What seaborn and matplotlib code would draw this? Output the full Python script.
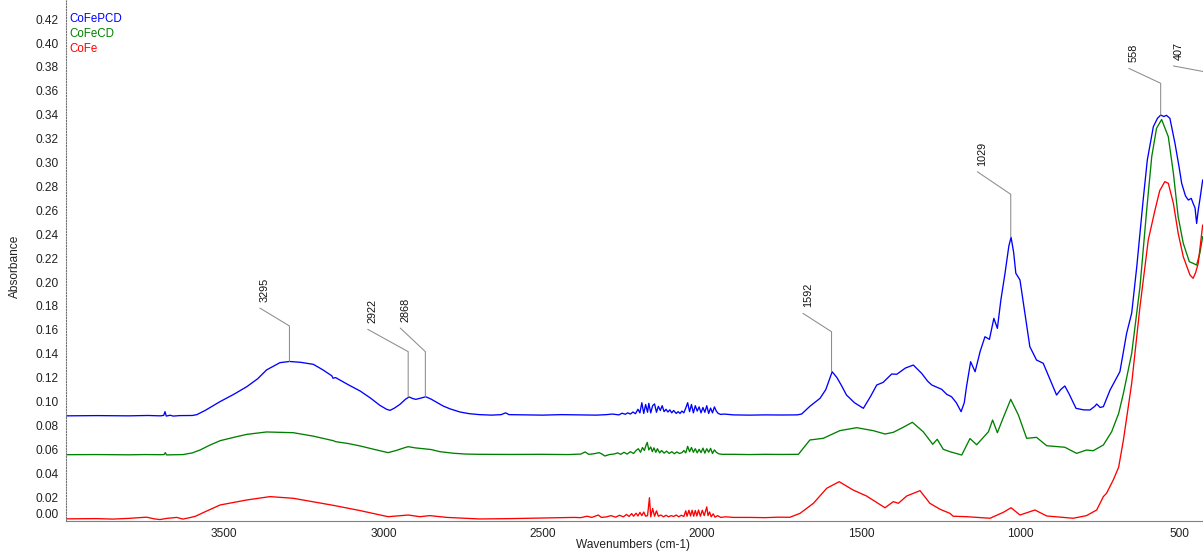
import numpy as np
import pandas as pd
import matplotlib
matplotlib.use('Agg')
import matplotlib.pyplot as plt
from matplotlib.transforms import offset_copy
from matplotlib.ticker import MultipleLocator
import seaborn as sns

# --- spectra (wavenumber cm-1, absorbance) ---
pcd_points = [
    (3997, 0.0880), (3900, 0.0882), (3800, 0.0880), (3740, 0.0883), (3700, 0.0880),
    (3690, 0.0884), (3686, 0.0915), (3682, 0.0878), (3670, 0.0885), (3660, 0.0878),
    (3640, 0.0882), (3600, 0.0883), (3586, 0.0890), (3560, 0.0925), (3513, 0.0999),
    (3470, 0.1060), (3429, 0.1124), (3395, 0.1190), (3367, 0.1264), (3325, 0.1325),
    (3295, 0.1335), (3260, 0.1328), (3220, 0.1311), (3190, 0.1265), (3162, 0.1215),
    (3158, 0.1195), (3150, 0.1200), (3110, 0.1140), (3073, 0.1088), (3040, 0.1028),
    (3011, 0.0968), (2990, 0.0935), (2979, 0.0926), (2965, 0.0945), (2948, 0.0976),
    (2930, 0.1020), (2919, 0.1038), (2908, 0.1025), (2898, 0.1018), (2880, 0.1030),
    (2867, 0.1040), (2850, 0.1020), (2830, 0.0990), (2812, 0.0962), (2790, 0.0938),
    (2759, 0.0912), (2730, 0.0898), (2697, 0.0890), (2660, 0.0886), (2630, 0.0890),
    (2616, 0.0905), (2605, 0.0890), (2560, 0.0888), (2500, 0.0886), (2440, 0.0890),
    (2380, 0.0888), (2330, 0.0886),
    (2300, 0.0890), (2280, 0.0895), (2260, 0.0888), (2250, 0.0902), (2240, 0.0893),
    (2232, 0.0905), (2224, 0.0895), (2216, 0.0912), (2208, 0.0898), (2200, 0.0935),
    (2194, 0.0905), (2188, 0.0990), (2182, 0.0900), (2176, 0.0975), (2170, 0.0910),
    (2166, 0.0985), (2160, 0.0905), (2154, 0.0965), (2148, 0.0980), (2142, 0.0910),
    (2136, 0.0960), (2130, 0.0925), (2124, 0.0965), (2118, 0.0915), (2112, 0.0935),
    (2106, 0.0912), (2100, 0.0930), (2094, 0.0905), (2088, 0.0925), (2080, 0.0900),
    (2074, 0.0915), (2068, 0.0900), (2062, 0.0920), (2056, 0.0905), (2050, 0.0945),
    (2044, 0.0990), (2038, 0.0915), (2032, 0.0975), (2026, 0.0905), (2020, 0.0965),
    (2014, 0.0920), (2008, 0.0955), (2002, 0.0905), (1996, 0.0950), (1990, 0.0910),
    (1984, 0.0965), (1978, 0.0900), (1972, 0.0945), (1966, 0.0905), (1960, 0.0955),
    (1954, 0.0920), (1948, 0.0900), (1940, 0.0892), (1930, 0.0895),
    (1900, 0.0888), (1850, 0.0886), (1800, 0.0888), (1750, 0.0887), (1700, 0.0888),
    (1686, 0.0895), (1660, 0.0960), (1628, 0.1027), (1610, 0.1100), (1590, 0.1249),
    (1575, 0.1200), (1560, 0.1130), (1545, 0.1054), (1520, 0.0990), (1492, 0.0943),
    (1470, 0.1040), (1450, 0.1138), (1430, 0.1160), (1403, 0.1230), (1387, 0.1228),
    (1360, 0.1280), (1335, 0.1305), (1309, 0.1236), (1290, 0.1170), (1277, 0.1138),
    (1246, 0.1102), (1230, 0.1060), (1215, 0.1040), (1200, 0.0990), (1185, 0.0915),
    (1175, 0.0990), (1168, 0.1124), (1155, 0.1333), (1141, 0.1249), (1125, 0.1420),
    (1110, 0.1542), (1096, 0.1520), (1082, 0.1696), (1071, 0.1612), (1060, 0.1850),
    (1047, 0.2073), (1035, 0.2300), (1028, 0.2374), (1020, 0.2250), (1013, 0.2073),
    (1000, 0.2017), (985, 0.1750), (969, 0.1459), (948, 0.1347), (927, 0.1320),
    (905, 0.1180), (885, 0.1054), (872, 0.1100), (859, 0.1130), (845, 0.1060),
    (824, 0.0943), (800, 0.0930), (780, 0.0929), (765, 0.0960), (759, 0.0979),
    (748, 0.0950), (738, 0.0957), (717, 0.1096), (700, 0.1180), (686, 0.1250),
    (665, 0.1570), (649, 0.1740), (633, 0.2130), (613, 0.2686), (600, 0.3020),
    (581, 0.3300), (568, 0.3370), (558, 0.3397), (548, 0.3385), (540, 0.3395),
    (529, 0.3370), (513, 0.3160), (500, 0.2960), (492, 0.2826), (480, 0.2720),
    (471, 0.2686), (462, 0.2700), (456, 0.2658), (450, 0.2620), (445, 0.2490),
    (440, 0.2600), (435, 0.2686), (426, 0.2854),
]

cd_points = [
    (3997, 0.0555), (3900, 0.0556), (3800, 0.0554), (3750, 0.0556), (3700, 0.0555),
    (3689, 0.0556), (3685, 0.0572), (3681, 0.0553), (3660, 0.0554), (3629, 0.0556),
    (3600, 0.0570), (3576, 0.0594), (3545, 0.0635), (3513, 0.0672), (3470, 0.0700),
    (3429, 0.0725), (3367, 0.0745), (3283, 0.0739), (3220, 0.0710), (3157, 0.0672),
    (3150, 0.0664), (3110, 0.0648), (3073, 0.0628), (3030, 0.0600), (2985, 0.0572),
    (2960, 0.0590), (2935, 0.0612), (2922, 0.0622), (2900, 0.0612), (2875, 0.0605),
    (2850, 0.0598), (2822, 0.0580), (2780, 0.0567), (2740, 0.0560), (2697, 0.0558),
    (2600, 0.0557), (2500, 0.0558), (2420, 0.0556),
    (2380, 0.0560), (2366, 0.0578), (2355, 0.0558), (2340, 0.0562), (2322, 0.0572),
    (2312, 0.0558), (2304, 0.0544), (2290, 0.0556), (2276, 0.0560), (2264, 0.0570),
    (2254, 0.0558), (2244, 0.0575), (2234, 0.0560), (2224, 0.0580), (2214, 0.0565),
    (2206, 0.0590), (2199, 0.0605), (2192, 0.0575), (2186, 0.0615), (2180, 0.0590),
    (2174, 0.0640), (2171, 0.0658), (2166, 0.0595), (2160, 0.0620), (2155, 0.0580),
    (2150, 0.0612), (2144, 0.0575), (2139, 0.0605), (2132, 0.0570), (2126, 0.0590),
    (2118, 0.0568), (2110, 0.0585), (2102, 0.0565), (2094, 0.0580), (2086, 0.0563),
    (2078, 0.0578), (2070, 0.0565), (2062, 0.0572), (2056, 0.0590), (2050, 0.0570),
    (2044, 0.0625), (2038, 0.0580), (2032, 0.0615), (2026, 0.0575), (2020, 0.0605),
    (2014, 0.0570), (2008, 0.0600), (2002, 0.0572), (1996, 0.0610), (1990, 0.0568),
    (1984, 0.0605), (1978, 0.0575), (1972, 0.0608), (1966, 0.0565), (1960, 0.0595),
    (1954, 0.0575), (1946, 0.0562), (1936, 0.0558),
    (1900, 0.0558), (1850, 0.0556), (1800, 0.0558), (1750, 0.0557), (1696, 0.0558),
    (1660, 0.0678), (1618, 0.0692), (1566, 0.0756), (1513, 0.0781), (1461, 0.0756),
    (1424, 0.0728), (1398, 0.0742), (1367, 0.0784), (1338, 0.0826), (1304, 0.0747),
    (1274, 0.0642), (1260, 0.0684), (1241, 0.0600), (1220, 0.0580), (1183, 0.0552),
    (1157, 0.0690), (1136, 0.0638), (1099, 0.0747), (1086, 0.0845), (1071, 0.0739),
    (1052, 0.0868), (1029, 0.1018), (1005, 0.0887), (979, 0.0692), (948, 0.0700),
    (916, 0.0630), (859, 0.0617), (822, 0.0566), (791, 0.0594), (770, 0.0588),
    (738, 0.0636), (712, 0.0747), (690, 0.0900), (675, 0.1069), (649, 0.1403),
    (623, 0.1960), (602, 0.2600), (586, 0.3050), (571, 0.3286), (555, 0.3360),
    (534, 0.3216), (518, 0.2910), (503, 0.2546), (487, 0.2324), (468, 0.2170),
    (455, 0.2155), (445, 0.2142), (435, 0.2240), (426, 0.2380),
]

fe_points = [
    (3997, 0.0018), (3900, 0.0020), (3850, 0.0016), (3800, 0.0022), (3744, 0.0032),
    (3720, 0.0018), (3702, 0.0012), (3680, 0.0022), (3649, 0.0030), (3630, 0.0016),
    (3608, 0.0028), (3590, 0.0040), (3566, 0.0070), (3513, 0.0134), (3429, 0.0176),
    (3356, 0.0204), (3283, 0.0190), (3157, 0.0131), (3073, 0.0087), (2985, 0.0036),
    (2922, 0.0050), (2885, 0.0036), (2854, 0.0045), (2800, 0.0030), (2697, 0.0017),
    (2600, 0.0020), (2500, 0.0025), (2440, 0.0028),
    (2400, 0.0030), (2380, 0.0028), (2360, 0.0040), (2345, 0.0030), (2325, 0.0050),
    (2315, 0.0030), (2300, 0.0034), (2285, 0.0045), (2270, 0.0032), (2258, 0.0048),
    (2246, 0.0035), (2236, 0.0055), (2228, 0.0038), (2220, 0.0062), (2214, 0.0040),
    (2206, 0.0065), (2200, 0.0042), (2194, 0.0072), (2188, 0.0045), (2182, 0.0075),
    (2176, 0.0040), (2170, 0.0045), (2164, 0.0195), (2160, 0.0035), (2154, 0.0105),
    (2148, 0.0040), (2142, 0.0085), (2136, 0.0040), (2128, 0.0050), (2120, 0.0035),
    (2112, 0.0048), (2104, 0.0035), (2096, 0.0045), (2088, 0.0038), (2080, 0.0050),
    (2072, 0.0035), (2064, 0.0048), (2056, 0.0038), (2050, 0.0085), (2046, 0.0040),
    (2040, 0.0090), (2035, 0.0042), (2030, 0.0090), (2025, 0.0040), (2020, 0.0088),
    (2015, 0.0042), (2010, 0.0092), (2004, 0.0040), (1998, 0.0090), (1992, 0.0045),
    (1984, 0.0118), (1980, 0.0045), (1975, 0.0075), (1970, 0.0035), (1964, 0.0060),
    (1958, 0.0032), (1950, 0.0045), (1940, 0.0030), (1925, 0.0035), (1900, 0.0030),
    (1850, 0.0030), (1800, 0.0028), (1760, 0.0032), (1723, 0.0031), (1691, 0.0064),
    (1649, 0.0148), (1607, 0.0274), (1568, 0.0329), (1524, 0.0259), (1482, 0.0209),
    (1424, 0.0111), (1398, 0.0162), (1382, 0.0148), (1356, 0.0209), (1314, 0.0254),
    (1283, 0.0148), (1251, 0.0098), (1220, 0.0064), (1210, 0.0040), (1168, 0.0036),
    (1094, 0.0023), (1052, 0.0073), (1028, 0.0111), (1000, 0.0050), (953, 0.0092),
    (916, 0.0042), (833, 0.0023), (791, 0.0045), (759, 0.0092), (738, 0.0204),
    (728, 0.0232), (707, 0.0343), (690, 0.0450), (675, 0.0678), (649, 0.1152),
    (623, 0.1793), (597, 0.2351), (576, 0.2600), (561, 0.2764), (545, 0.2840),
    (534, 0.2826), (518, 0.2658), (503, 0.2408), (487, 0.2212), (466, 0.2059),
    (456, 0.2031), (448, 0.2080), (440, 0.2156), (426, 0.2477),
]

sample_names = ['CoFePCD', 'CoFeCD', 'CoFe']
sample_colors = ['#0000ff', '#008000', '#ff0000']

# peak labels on the CoFePCD trace
peak_labels = ['3295', '2922', '2868', '1592', '1029', '558', '407']
peak_wn = [3295, 2922, 2868, 1592, 1029, 558, 407]
peak_abs = [0.1335, 0.1038, 0.1040, 0.1249, 0.2374, 0.3397, 0.300]

# leader geometry: top of the vertical stub, then end of the slanted part
leader_top = [0.1632, 0.1417, 0.1417, 0.1584, 0.2734, 0.3663, 0.3753]
leader_end_wn = [3388, 3049, 2947, 1682, 1134, 658, 518]
leader_end_abs = [0.1782, 0.1604, 0.1615, 0.1738, 0.2923, 0.3788, 0.3808]

frames = []
for name, pts in zip(sample_names, [pcd_points, cd_points, fe_points]):
    d = pd.DataFrame(pts, columns=['wn', 'absorbance'])
    d['sample'] = name
    frames.append(d)
df = pd.concat(frames, ignore_index=True)

sns.set_style('white')
plt.rcParams['font.family'] = ['Liberation Sans', 'DejaVu Sans']

fig = plt.figure(figsize=(12.03, 5.51), dpi=100)
ax = fig.add_axes([66 / 1203, 30 / 551, 1 - 66 / 1203, 521 / 551])

sns.lineplot(data=df, x='wn', y='absorbance', hue='sample', hue_order=sample_names,
             palette=sample_colors, estimator=None, sort=False, linewidth=0.95,
             legend=False, ax=ax)

ax.set_xlim(3997, 425)
ax.set_ylim(0, 0.436)

# peak annotations
for lab, w, a, top, ew, ea in zip(peak_labels, peak_wn, peak_abs, leader_top,
                                  leader_end_wn, leader_end_abs):
    ax.plot([w, w, ew], [a, top, ea], color='#8c8c8c', lw=0.75, clip_on=False)
    tr = offset_copy(ax.transData, fig=fig, x=5, y=6, units='dots')
    ax.text(ew, ea, lab, transform=tr, rotation=90, ha='center', va='bottom',
            fontsize=7.8, color='#111111', clip_on=False)

# sample names in the top-left corner
for i, (name, col) in enumerate(zip(sample_names, sample_colors)):
    ax.text(0.003, 0.9635 - i * 15 / 521, name, transform=ax.transAxes,
            color=col, fontsize=8.3, va='center', ha='left')

# axes styling
ax.xaxis.set_major_locator(MultipleLocator(500))
ax.xaxis.set_minor_locator(MultipleLocator(100))
ax.yaxis.set_major_locator(MultipleLocator(0.02))
ax.yaxis.set_minor_locator(MultipleLocator(0.01))
ax.yaxis.set_major_formatter(matplotlib.ticker.FormatStrFormatter('%.2f'))
ax.tick_params(axis='both', which='both', direction='out', color='#808080',
               labelsize=8.6, labelcolor='#222222', width=0.7)
ax.tick_params(axis='both', which='major', length=3, pad=2)
ax.tick_params(axis='both', which='minor', length=2)

for s in ['top', 'right']:
    ax.spines[s].set_visible(False)
ax.spines['left'].set_linestyle((0, (1, 1.5)))
ax.spines['left'].set_color('#707070')
ax.spines['left'].set_linewidth(0.8)
ax.spines['bottom'].set_color('#808080')
ax.spines['bottom'].set_linewidth(0.8)

fig.canvas.draw()
for t in ax.get_yticklabels():
    if t.get_text() == '0.00':
        t.set_va('bottom')

ax.set_xlabel('Wavenumbers (cm-1)', fontsize=8.6, color='#222222')
ax.xaxis.set_label_coords((633 - 66) / 1137, -18 / 521)
ax.set_ylabel('Absorbance', fontsize=8.6, color='#222222')
ax.yaxis.set_label_coords(-45 / 1137, 0.489)

fig.savefig('out.png', dpi=100)
